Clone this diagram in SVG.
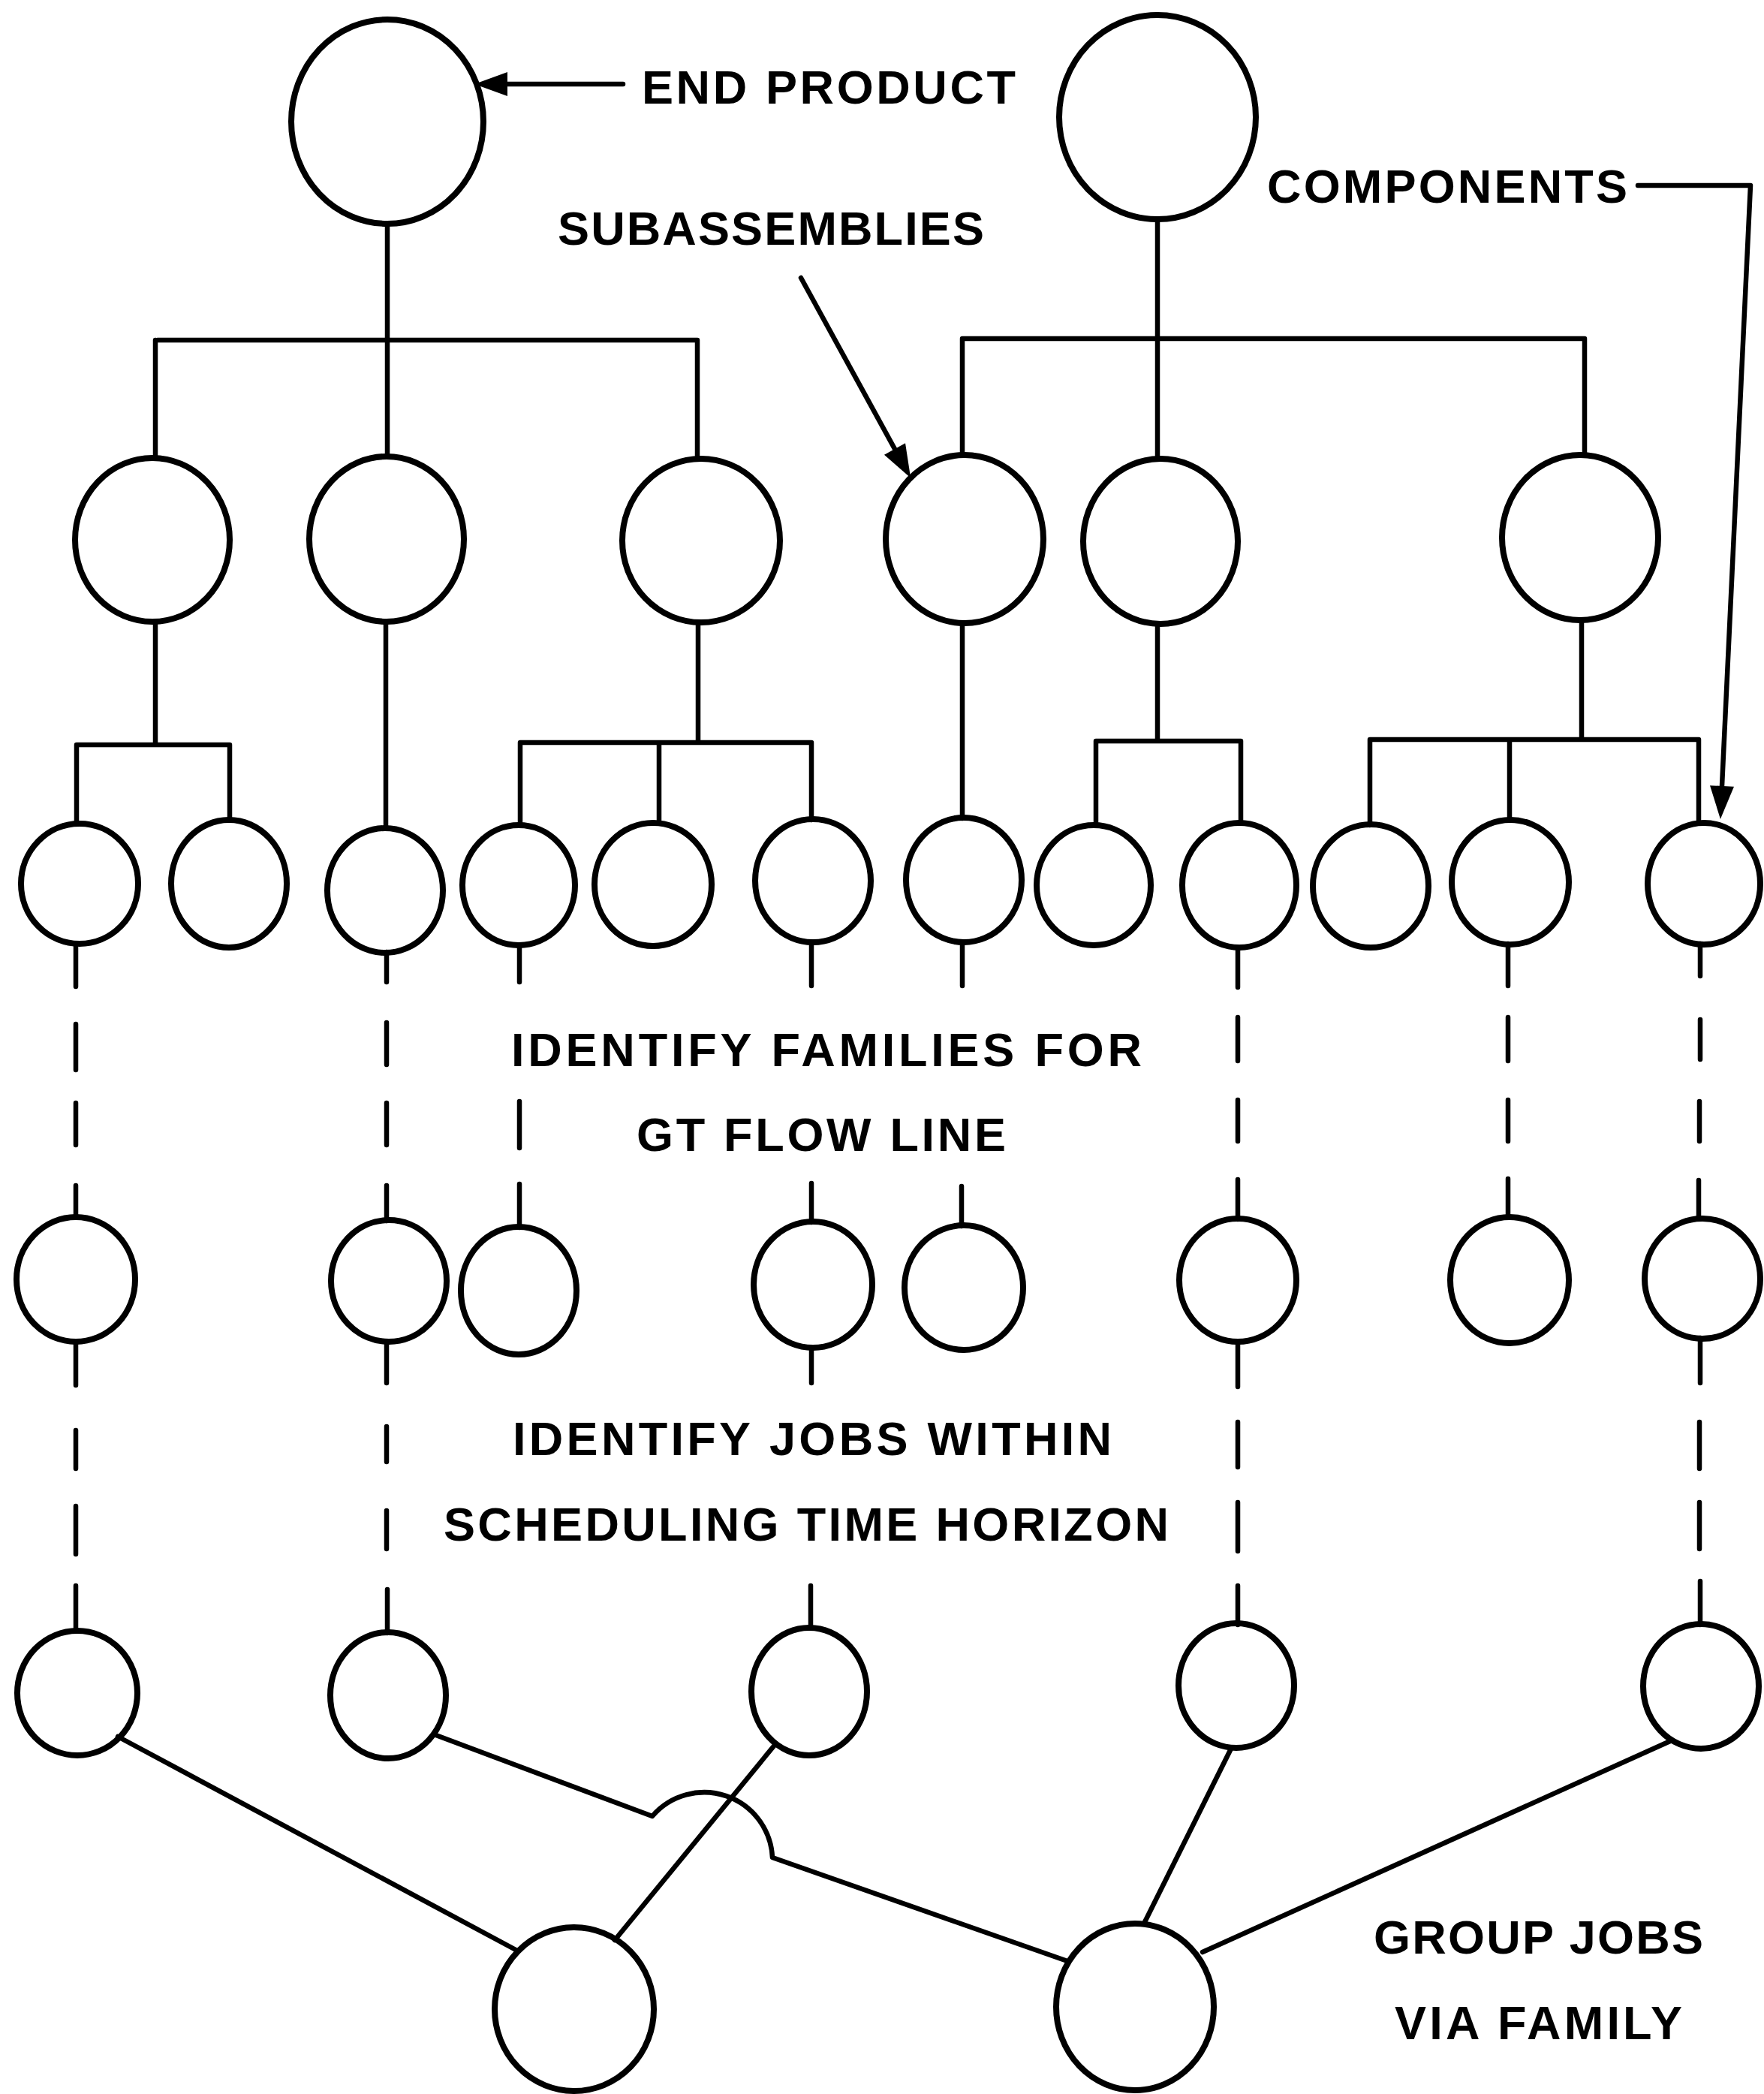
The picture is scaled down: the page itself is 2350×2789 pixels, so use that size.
<svg xmlns="http://www.w3.org/2000/svg" width="2350" height="2789" viewBox="0 0 2350 2789">
<style>
.n{fill:none;stroke:#000;stroke-width:8}
.c{fill:none;stroke:#000;stroke-width:6.5;stroke-linecap:round;stroke-linejoin:round}
.t{font-family:"Liberation Sans",Arial,sans-serif;font-weight:bold;font-size:63px;fill:#000}
</style>
<defs>
<marker id="ah" markerUnits="userSpaceOnUse" markerWidth="50" markerHeight="40" refX="0" refY="0" orient="auto" overflow="visible">
<path d="M0,-16 L44,0 L0,16 z" fill="#000"/>
</marker>
</defs>
<rect width="2350" height="2789" fill="#fff"/>
<g id="connectors">
<path class="c" d="M516,298 L516,453 M210,453 L929,453 M207,453 L207,610 M516,453 L516,608 M929,453 L929,611"/>
<path class="c" d="M1542,292 L1542,451 M1282,451 L2111,451 M1282,451 L1282,606 M1542,451 L1542,611 M2111,451 L2111,606"/>
<path class="c" d="M207,828 L207,992 M102,992 L306,992 M102,992 L102,1096 M306,992 L306,1092"/>
<path class="c" d="M514,828 L514,1103"/>
<path class="c" d="M930,829 L930,989 M693,989 L1081,989 M693,989 L693,1099 M878,989 L878,1096 M1081,989 L1081,1092"/>
<path class="c" d="M1282,830 L1282,1090"/>
<path class="c" d="M1542,831 L1542,987 M1460,987 L1653,987 M1460,987 L1460,1099 M1653,987 L1653,1096"/>
<path class="c" d="M2107,827 L2107,985 M1825,985 L2263,985 M1825,985 L1825,1099 M2011,985 L2011,1092 M2263,985 L2263,1096"/>
<path class="c" d="M101,1257 L101,1314 M101,1364 L101,1425 M101,1469 L101,1525 M101,1579 L101,1621 M101,1787 L101,1845 M101,1905 L101,1956 M101,2006 L101,2070 M101,2112 L101,2172"/>
<path class="c" d="M515,1268 L515,1308 M515,1362 L515,1418 M515,1469 L515,1525 M515,1579 L515,1626 M515,1787 L515,1842 M515,1900 L515,1947 M515,2012 L515,2063 M516,2117 L516,2175"/>
<path class="c" d="M692,1259 L692,1308 M692,1467 L692,1529 M692,1577 L692,1635"/>
<path class="c" d="M1081,1255 L1081,1313 M1081,1576 L1081,1628 M1081,1795 L1081,1842 M1080,2112 L1080,2168"/>
<path class="c" d="M1282,1255 L1282,1313 M1281,1580 L1281,1633"/>
<path class="c" d="M1649,1262 L1649,1315 M1649,1355 L1649,1413 M1649,1465 L1649,1520 M1649,1571 L1649,1624 M1649,1787 L1649,1847 M1649,1894 L1649,1954 M1649,2001 L1649,2066 M1649,2112 L1649,2164"/>
<path class="c" d="M2009,1257 L2009,1313 M2009,1355 L2009,1413 M2009,1465 L2009,1520 M2009,1570 L2009,1621"/>
<path class="c" d="M2265,1257 L2265,1300 M2265,1358 L2265,1411 M2264,1467 L2264,1520 M2263,1572 L2263,1621 M2265,1782 L2265,1842 M2264,1894 L2264,1956 M2264,2001 L2264,2063 M2265,2106 L2265,2164"/>
<path class="c" d="M157,2313 L689,2598"/>
<path class="c" d="M578,2310 L869,2419 A91,91 0 0 1 1029,2474 L1422,2612"/>
<path class="c" d="M1033,2323 L819,2584"/>
<path class="c" d="M1640,2329 L1525,2560"/>
<path class="c" d="M2225,2319 L1602,2600"/>
<path class="c" d="M830,112 L676,112" marker-end="url(#ah)"/>
<path class="c" d="M1067,370 L1192,598" marker-end="url(#ah)"/>
<path class="c" d="M2182,247 L2332,247 L2294,1047" marker-end="url(#ah)"/>
</g>
<g id="end-product-1"><ellipse class="n" cx="516" cy="162" rx="128" ry="136"/></g>
<g id="end-product-2"><ellipse class="n" cx="1542" cy="156" rx="131" ry="136"/></g>
<g id="sub-1"><ellipse class="n" cx="203" cy="719" rx="103" ry="109"/></g>
<g id="sub-2"><ellipse class="n" cx="515" cy="718" rx="103" ry="110"/></g>
<g id="sub-3"><ellipse class="n" cx="934" cy="720" rx="105" ry="109"/></g>
<g id="sub-4"><ellipse class="n" cx="1285" cy="718" rx="105" ry="112"/></g>
<g id="sub-5"><ellipse class="n" cx="1546" cy="721" rx="103" ry="110"/></g>
<g id="sub-6"><ellipse class="n" cx="2105" cy="716" rx="104" ry="110"/></g>
<g id="comp-1"><ellipse class="n" cx="106" cy="1177" rx="78" ry="80"/></g>
<g id="comp-2"><ellipse class="n" cx="305" cy="1177" rx="77" ry="85"/></g>
<g id="comp-3"><ellipse class="n" cx="513" cy="1186" rx="77" ry="83"/></g>
<g id="comp-4"><ellipse class="n" cx="691" cy="1179" rx="75" ry="80"/></g>
<g id="comp-5"><ellipse class="n" cx="870" cy="1178" rx="78" ry="82"/></g>
<g id="comp-6"><ellipse class="n" cx="1083" cy="1173" rx="77" ry="82"/></g>
<g id="comp-7"><ellipse class="n" cx="1284" cy="1172" rx="77" ry="83"/></g>
<g id="comp-8"><ellipse class="n" cx="1457" cy="1179" rx="76" ry="80"/></g>
<g id="comp-9"><ellipse class="n" cx="1651" cy="1179" rx="76" ry="83"/></g>
<g id="comp-10"><ellipse class="n" cx="1826" cy="1180" rx="77" ry="82"/></g>
<g id="comp-11"><ellipse class="n" cx="2012" cy="1175" rx="78" ry="83"/></g>
<g id="comp-12"><ellipse class="n" cx="2270" cy="1177" rx="75" ry="81"/></g>
<g id="fam-1"><ellipse class="n" cx="101" cy="1704" rx="79" ry="83"/></g>
<g id="fam-2"><ellipse class="n" cx="518" cy="1706" rx="77" ry="81"/></g>
<g id="fam-3"><ellipse class="n" cx="691" cy="1719" rx="77" ry="85"/></g>
<g id="fam-4"><ellipse class="n" cx="1083" cy="1711" rx="79" ry="84"/></g>
<g id="fam-5"><ellipse class="n" cx="1284" cy="1715" rx="79" ry="83"/></g>
<g id="fam-6"><ellipse class="n" cx="1649" cy="1705" rx="78" ry="82"/></g>
<g id="fam-7"><ellipse class="n" cx="2011" cy="1705" rx="79" ry="84"/></g>
<g id="fam-8"><ellipse class="n" cx="2268" cy="1703" rx="77" ry="80"/></g>
<g id="job-1"><ellipse class="n" cx="103" cy="2255" rx="80" ry="83"/></g>
<g id="job-2"><ellipse class="n" cx="517" cy="2258" rx="77" ry="84"/></g>
<g id="job-3"><ellipse class="n" cx="1078" cy="2253" rx="77" ry="85"/></g>
<g id="job-4"><ellipse class="n" cx="1647" cy="2245" rx="77" ry="83"/></g>
<g id="job-5"><ellipse class="n" cx="2266" cy="2246" rx="77" ry="83"/></g>
<g id="group-1"><ellipse class="n" cx="765" cy="2676" rx="106" ry="109"/></g>
<g id="group-2"><ellipse class="n" cx="1512" cy="2673" rx="105" ry="111"/></g>
<g id="labels">
<text class="t" x="855" y="138" textLength="498" lengthAdjust="spacing">END PRODUCT</text>
<text class="t" x="743" y="326" textLength="568" lengthAdjust="spacing">SUBASSEMBLIES</text>
<text class="t" x="1688" y="270" textLength="480" lengthAdjust="spacing">COMPONENTS</text>
<text class="t" x="681" y="1420" textLength="840" lengthAdjust="spacing">IDENTIFY FAMILIES FOR</text>
<text class="t" x="848" y="1533" textLength="492" lengthAdjust="spacing">GT FLOW LINE</text>
<text class="t" x="683" y="1938" textLength="798" lengthAdjust="spacing">IDENTIFY JOBS WITHIN</text>
<text class="t" x="591" y="2052" textLength="966" lengthAdjust="spacing">SCHEDULING TIME HORIZON</text>
<text class="t" x="1830" y="2602" textLength="439" lengthAdjust="spacing">GROUP JOBS</text>
<text class="t" x="1858" y="2716" textLength="383" lengthAdjust="spacing">VIA FAMILY</text>
</g>
</svg>
